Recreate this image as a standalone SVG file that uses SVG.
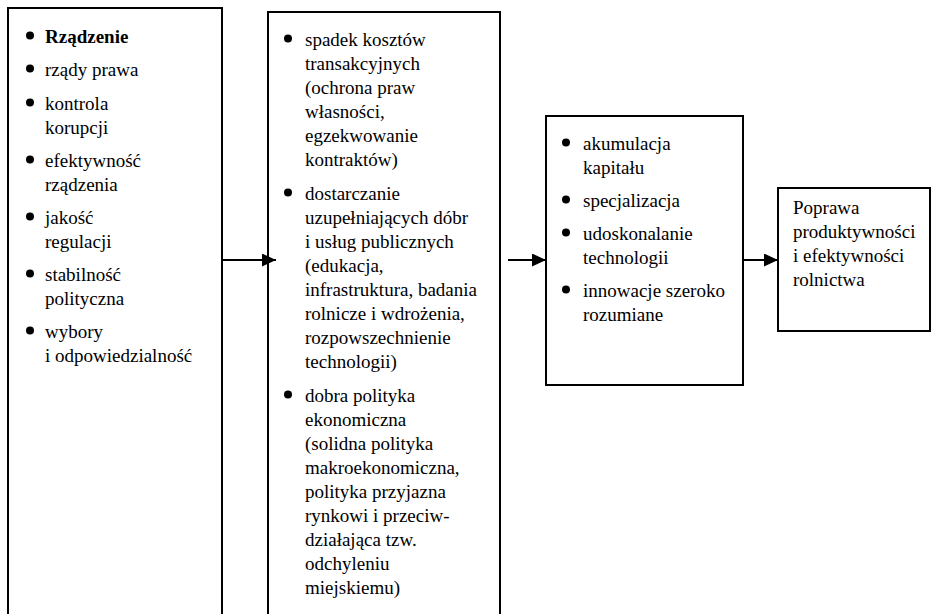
<svg xmlns="http://www.w3.org/2000/svg" width="932" height="614" viewBox="0 0 932 614">
  <style>
    .box { fill: #ffffff; stroke: #000000; stroke-width: 2; }
    .t { font-family: "Liberation Serif", "Times New Roman", serif; font-size: 19px; fill: #000000; }
    .b { font-weight: bold; }
    .dot { fill: #000000; }
    .conn { stroke: #000000; stroke-width: 2; fill: none; }
  </style>
  <defs>
    <marker id="head" markerWidth="14" markerHeight="13" refX="14" refY="6.5" orient="auto" markerUnits="userSpaceOnUse">
      <path d="M0,0 L14,6.5 L0,13 Z" fill="#000000"/>
    </marker>
  </defs>

  <rect width="932" height="614" fill="#ffffff"/>

  <!-- Governance indicators (box runs past the bottom edge) -->
  <g id="governance">
    <rect class="box" x="8" y="8" width="214" height="620"/>
    <circle class="dot" cx="30" cy="35.5" r="4"/>
    <text class="t b" x="45" y="43">Rządzenie</text>
    <circle class="dot" cx="30" cy="68.5" r="4"/>
    <text class="t" x="45" y="76">rządy prawa</text>
    <circle class="dot" cx="30" cy="102.5" r="4"/>
    <text class="t" x="45" y="110">kontrola</text>
    <text class="t" x="45" y="134">korupcji</text>
    <circle class="dot" cx="30" cy="159.5" r="4"/>
    <text class="t" x="45" y="167">efektywność</text>
    <text class="t" x="45" y="191">rządzenia</text>
    <circle class="dot" cx="30" cy="216.5" r="4"/>
    <text class="t" x="45" y="224">jakość</text>
    <text class="t" x="45" y="248">regulacji</text>
    <circle class="dot" cx="30" cy="273.5" r="4"/>
    <text class="t" x="45" y="281">stabilność</text>
    <text class="t" x="45" y="305">polityczna</text>
    <circle class="dot" cx="30" cy="330.5" r="4"/>
    <text class="t" x="45" y="338">wybory</text>
    <text class="t" x="45" y="362">i odpowiedzialność</text>
  </g>

  <!-- Channels of influence (box runs past the bottom edge) -->
  <g id="channels">
    <rect class="box" x="268" y="12" width="232" height="620"/>
    <circle class="dot" cx="288" cy="38.5" r="4"/>
    <text class="t" x="305" y="46">spadek kosztów</text>
    <text class="t" x="305" y="70">transakcyjnych</text>
    <text class="t" x="305" y="94">(ochrona praw</text>
    <text class="t" x="305" y="118">własności,</text>
    <text class="t" x="305" y="142">egzekwowanie</text>
    <text class="t" x="305" y="166">kontraktów)</text>
    <circle class="dot" cx="288" cy="192.5" r="4"/>
    <text class="t" x="305" y="200">dostarczanie</text>
    <text class="t" x="305" y="224">uzupełniających dóbr</text>
    <text class="t" x="305" y="248">i usług publicznych</text>
    <text class="t" x="305" y="272">(edukacja,</text>
    <text class="t" x="305" y="296">infrastruktura, badania</text>
    <text class="t" x="305" y="320">rolnicze i wdrożenia,</text>
    <text class="t" x="305" y="344">rozpowszechnienie</text>
    <text class="t" x="305" y="368">technologii)</text>
    <circle class="dot" cx="288" cy="394.5" r="4"/>
    <text class="t" x="305" y="402">dobra polityka</text>
    <text class="t" x="305" y="426">ekonomiczna</text>
    <text class="t" x="305" y="450">(solidna polityka</text>
    <text class="t" x="305" y="474">makroekonomiczna,</text>
    <text class="t" x="305" y="498">polityka przyjazna</text>
    <text class="t" x="305" y="522">rynkowi i przeciw-</text>
    <text class="t" x="305" y="546">działająca tzw.</text>
    <text class="t" x="305" y="570">odchyleniu</text>
    <text class="t" x="305" y="594">miejskiemu)</text>
  </g>

  <!-- Sources of growth -->
  <g id="sources">
    <rect class="box" x="546" y="116" width="197" height="269"/>
    <circle class="dot" cx="566" cy="142.5" r="4"/>
    <text class="t" x="583" y="150">akumulacja</text>
    <text class="t" x="583" y="174">kapitału</text>
    <circle class="dot" cx="566" cy="199.5" r="4"/>
    <text class="t" x="583" y="207">specjalizacja</text>
    <circle class="dot" cx="566" cy="232.5" r="4"/>
    <text class="t" x="583" y="240">udoskonalanie</text>
    <text class="t" x="583" y="264">technologii</text>
    <circle class="dot" cx="566" cy="289.5" r="4"/>
    <text class="t" x="583" y="297">innowacje szeroko</text>
    <text class="t" x="583" y="321">rozumiane</text>
  </g>

  <!-- Outcome -->
  <g id="outcome">
    <rect class="box" x="778" y="188" width="152" height="143"/>
    <text class="t" x="793" y="214">Poprawa</text>
    <text class="t" x="793" y="238">produktywności</text>
    <text class="t" x="793" y="262">i efektywności</text>
    <text class="t" x="793" y="286">rolnictwa</text>
  </g>

  <!-- Connectors -->
  <g id="connectors">
    <line class="conn" x1="223" y1="260" x2="276" y2="260" marker-end="url(#head)"/>
    <line class="conn" x1="508" y1="260" x2="546" y2="260" marker-end="url(#head)"/>
    <line class="conn" x1="743" y1="260" x2="778" y2="260" marker-end="url(#head)"/>
  </g>
</svg>
